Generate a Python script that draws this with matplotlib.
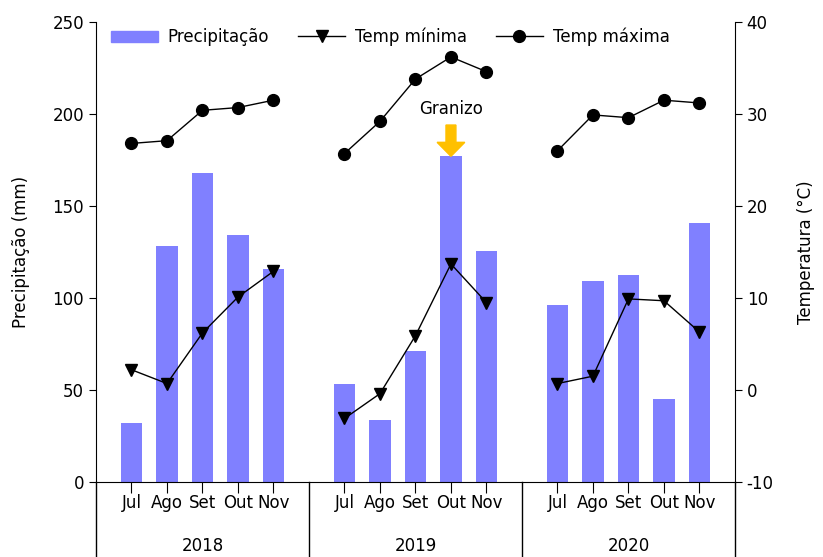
import numpy as np
import matplotlib.pyplot as plt
from matplotlib.lines import Line2D
from matplotlib.patches import Patch

months = ['Jul', 'Ago', 'Set', 'Out', 'Nov']
years = ['2018', '2019', '2020']

# monthly precipitation (mm)
precip_2018 = [32, 128, 168, 134, 116]
precip_2019 = [53.5, 33.5, 71, 177, 125.7]
precip_2020 = [96, 109.4, 112.7, 45, 140.6]

# minimum temperature (°C)
tmin_2018 = [2.2, 0.7, 6.2, 10.1, 12.9]
tmin_2019 = [-3.1, -0.4, 5.9, 13.7, 9.5]
tmin_2020 = [0.7, 1.5, 9.9, 9.7, 6.3]

# maximum temperature (°C)
tmax_2018 = [26.8, 27.1, 30.4, 30.7, 31.5]
tmax_2019 = [25.7, 29.2, 33.8, 36.2, 34.6]
tmax_2020 = [26.0, 29.9, 29.6, 31.5, 31.2]

precip = [precip_2018, precip_2019, precip_2020]
tmin = [tmin_2018, tmin_2019, tmin_2020]
tmax = [tmax_2018, tmax_2019, tmax_2020]

hail_year, hail_month = 1, 3

plt.rcParams['font.family'] = 'DejaVu Sans'
plt.rcParams['font.size'] = 12
plt.rcParams['axes.unicode_minus'] = False

bar_color = '#8080ff'
ms = 8.5
fig = plt.figure(figsize=(8.23, 5.57), dpi=100)
ax = fig.add_axes([0.1166, 0.1347, 0.7764, 0.8258])
ax2 = ax.twinx()

all_x = []
for i in range(len(years)):
    x = np.arange(5) + 6 * i
    all_x.extend(x)
    ax.bar(x, precip[i], width=0.6, color=bar_color, zorder=1)
    ax2.plot(x, tmin[i], '-', color='black', lw=1, marker='v', ms=ms, zorder=3)
    ax2.plot(x, tmax[i], '-', color='black', lw=1, marker='o', ms=ms, zorder=3)

ax.set_xlim(-1, 17)
ax.set_ylim(0, 250)
ax.set_yticks(np.arange(0, 251, 50))
ax2.set_ylim(-10, 40)
ax2.set_yticks(np.arange(-10, 41, 10))

ax.set_xticks(all_x)
ax.set_xticklabels(months * len(years))
ax.tick_params(axis='x', length=8, direction='out', pad=0.5)
ax.tick_params(axis='y', length=5, direction='out')
ax2.tick_params(axis='y', length=5, direction='out')

for s in ['top', 'right']:
    ax.spines[s].set_visible(False)
for s in ['top', 'left', 'bottom']:
    ax2.spines[s].set_visible(False)

# year separators and side lines continued under the axis
xt = ax.get_xaxis_transform()
for xs in [-1, 5, 11, 17]:
    ax.add_line(Line2D([xs, xs], [0, -0.17], transform=xt, color='black',
                       lw=1, clip_on=False))
for i, yr in enumerate(years):
    ax.text(6 * i + 2, -0.139, yr, transform=xt, ha='center', va='center')

ax.set_ylabel('Precipitação (mm)', labelpad=16)
ax2.set_ylabel('Temperatura (°C)', labelpad=17)

# hail event marker
hx = hail_month + 6 * hail_year
htop = precip[hail_year][hail_month]
ax.arrow(hx, htop + 17, 0, -17 + 7.6, width=0.28, head_width=0.78,
         head_length=7.6, length_includes_head=False, color='#ffc000', zorder=4)
ax.text(hx, htop + 21, 'Granizo', ha='center', va='bottom')

handles = [Patch(color=bar_color),
           Line2D([], [], color='black', lw=1, marker='v', ms=ms),
           Line2D([], [], color='black', lw=1, marker='o', ms=ms)]
labels = ['Precipitação', 'Temp mínima', 'Temp máxima']
ax2.legend(handles, labels, ncol=3, frameon=False, loc='upper left',
           bbox_to_anchor=(0.0, 1.02), handlelength=2.8, columnspacing=1.75,
           handletextpad=0.6)

fig.savefig('out.png', dpi=100)
